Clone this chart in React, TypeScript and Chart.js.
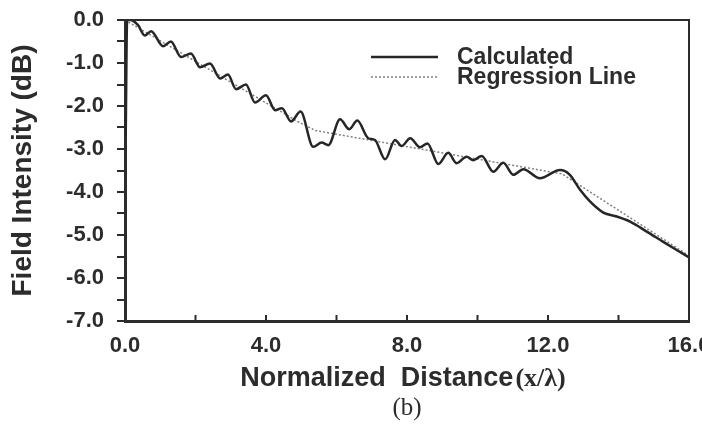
import React, { useEffect, useRef } from "react";
import { Chart, registerables } from "chart.js";

Chart.register(...registerables);

// Calculated field intensity (dB) vs normalized distance x/λ
const calcX = [
  0.02, 0.06, 0.15, 0.37, 0.56, 0.74, 1.08, 1.3, 1.59, 1.87, 2.13, 2.41, 2.7, 2.92, 3.15, 3.43,
  3.69, 4.0, 4.26, 4.45, 4.71, 4.98, 5.34, 5.58, 5.77, 6.1, 6.36, 6.59, 6.9, 7.09, 7.38, 7.66,
  7.85, 8.09, 8.37, 8.58, 8.89, 9.17, 9.41, 9.69, 9.88, 10.12, 10.45, 10.73, 11.02, 11.3, 11.77,
  12.34, 12.62, 12.91, 13.19, 13.57, 13.95, 14.33, 14.8, 15.27, 15.65, 16.0,
];
const calcY = [
  -2.7, 0.0, 0.0, -0.12, -0.36, -0.26, -0.61, -0.5, -0.86, -0.78, -1.1, -1.01, -1.36, -1.27, -1.61, -1.5,
  -1.92, -1.75, -2.1, -2.05, -2.36, -2.13, -2.95, -2.85, -2.91, -2.31, -2.54, -2.34, -2.75, -2.79, -3.24, -2.79,
  -2.93, -2.75, -2.96, -2.87, -3.35, -3.09, -3.33, -3.18, -3.26, -3.16, -3.53, -3.32, -3.6, -3.47, -3.68,
  -3.49, -3.6, -3.95, -4.22, -4.48, -4.57, -4.69, -4.92, -5.16, -5.35, -5.52,
];

// Regression line knots
const regX = [0, 4.9, 5.4, 12.4, 16.0];
const regY = [0, -2.36, -2.57, -3.58, -5.48];

const seriesLabels = ["Calculated", "Regression Line"];
const yTitle = "Field Intensity (dB)";
const xTitleMain = "Normalized  Distance";
const xTitleUnit = "(x/λ)";
const caption = "(b)";

const SANS = "'Liberation Sans', Arial, Helvetica, sans-serif";
const SERIF = "'Liberation Serif', 'Times New Roman', serif";
const INK = "#2c2c2c";

export default function App() {
  const ref = useRef<HTMLCanvasElement>(null);

  useEffect(() => {
    if (!ref.current) return;

    const decor = {
      id: "decor",
      afterDraw(chart: any) {
        const { ctx, chartArea: a, scales } = chart;
        const xs = scales.x;
        ctx.save();
        // top and right frame
        ctx.strokeStyle = INK;
        ctx.lineWidth = 2;
        ctx.beginPath();
        ctx.moveTo(a.left, a.top);
        ctx.lineTo(a.right, a.top);
        ctx.lineTo(a.right, a.bottom);
        ctx.stroke();
        // inward x ticks
        xs.ticks.forEach((t: any) => {
          const px = xs.getPixelForValue(t.value);
          ctx.beginPath();
          ctx.moveTo(px, a.bottom);
          ctx.lineTo(px, a.bottom - 6);
          ctx.stroke();
        });
        // legend
        chart.data.datasets.forEach((ds: any, i: number) => {
          const y = 57 + i * 20;
          ctx.save();
          ctx.strokeStyle = ds.borderColor;
          ctx.lineWidth = ds.borderWidth;
          ctx.setLineDash(ds.borderDash || []);
          ctx.beginPath();
          ctx.moveTo(371, y);
          ctx.lineTo(438, y);
          ctx.stroke();
          ctx.restore();
          ctx.fillStyle = INK;
          ctx.font = `bold 23px ${SANS}`;
          ctx.textAlign = "left";
          ctx.textBaseline = "middle";
          ctx.fillText(ds.label, 457, y + 1);
        });
        // x axis title
        ctx.fillStyle = INK;
        ctx.textBaseline = "middle";
        ctx.textAlign = "left";
        ctx.font = `bold 27px ${SANS}`;
        const w1 = ctx.measureText(xTitleMain).width;
        ctx.font = `bold 26px ${SERIF}`;
        const w2 = ctx.measureText(xTitleUnit).width;
        const cx = (a.left + a.right) / 2;
        const x0 = cx - (w1 + w2 + 2) / 2 - 4;
        ctx.font = `bold 27px ${SANS}`;
        ctx.fillText(xTitleMain, x0, 379);
        ctx.font = `bold 26px ${SERIF}`;
        ctx.fillText(xTitleUnit, x0 + w1 + 2, 379);
        // caption
        ctx.font = `25px ${SERIF}`;
        ctx.textAlign = "center";
        ctx.fillText(caption, cx, 408);
        ctx.restore();
      },
    };

    const chart = new Chart(ref.current, {
      type: "line",
      data: {
        datasets: [
          {
            label: seriesLabels[0],
            data: calcX.map((x, i) => ({ x, y: calcY[i] })),
            borderColor: "#262626",
            borderWidth: 2.5,
            cubicInterpolationMode: "monotone",
            pointRadius: 0,
            fill: false,
          },
          {
            label: seriesLabels[1],
            data: regX.map((x, i) => ({ x, y: regY[i] })),
            borderColor: "#808080",
            borderWidth: 1.5,
            borderDash: [2, 2],
            tension: 0,
            pointRadius: 0,
            fill: false,
          },
        ],
      },
      options: {
        animation: false,
        responsive: false,
        events: [],
        layout: { padding: { top: 20, right: 13, left: 0, bottom: 0 } },
        plugins: { legend: { display: false }, tooltip: { enabled: false } },
        scales: {
          x: {
            type: "linear",
            min: 0,
            max: 16,
            ticks: {
              stepSize: 2,
              autoSkip: false,
              maxRotation: 0,
              padding: 12,
              color: INK,
              font: { family: SANS, size: 22, weight: "bold" },
              callback: (v: any) => (Number(v) % 4 === 0 ? Number(v).toFixed(1) : ""),
            },
            grid: { display: true, drawOnChartArea: false, drawTicks: false },
            border: { display: true, color: INK, width: 3 },
            afterFit: (s: any) => {
              s.height = 103;
              s.paddingLeft = 0;
              s.paddingRight = 0;
            },
          },
          y: {
            type: "linear",
            min: -7,
            max: 0,
            ticks: {
              stepSize: 0.5,
              autoSkip: false,
              padding: 13,
              color: INK,
              font: { family: SANS, size: 22, weight: "bold" },
              callback: (v: any) => (Number.isInteger(Number(v)) ? Number(v).toFixed(1) : ""),
            },
            grid: { drawOnChartArea: false, drawTicks: true, tickLength: 8, color: INK, lineWidth: 2 },
            border: { display: true, color: INK, width: 3 },
            title: {
              display: true,
              text: yTitle,
              color: INK,
              font: { family: SANS, size: 28, weight: "bold" },
              padding: { top: 6, bottom: 0 },
            },
            afterFit: (s: any) => {
              s.width = 125;
              s.paddingTop = 0;
              s.paddingBottom = 0;
            },
          },
        },
      },
      plugins: [decor],
    } as any);

    return () => chart.destroy();
  }, []);

  return (
    <div style={{ position: "fixed", left: 0, top: 0, width: 702, height: 424, background: "#fff" }}>
      <canvas ref={ref} width={702} height={424} style={{ display: "block" }} />
    </div>
  );
}
